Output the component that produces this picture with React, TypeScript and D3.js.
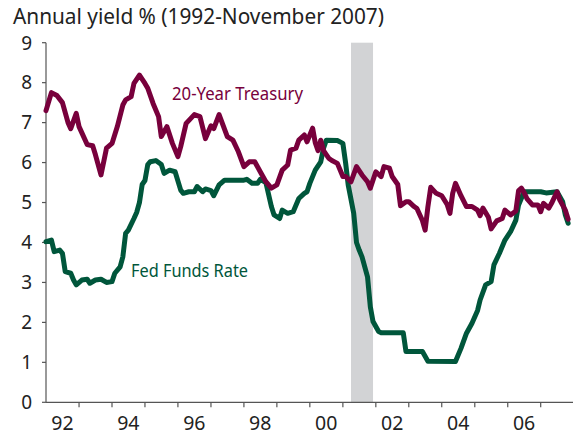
import React from "react";
import { scaleTime, scaleLinear, line, range } from "d3";

// monthly readings, "YYYY-MM" -> annual yield %
const treasury: [string, number][] = [
  ["1992-01", 7.3], ["1992-03", 7.75], ["1992-05", 7.68], ["1992-07", 7.5], ["1992-09", 7.0],
  ["1992-10", 6.85], ["1992-12", 7.23], ["1993-01", 6.9], ["1993-04", 6.45], ["1993-06", 6.42],
  ["1993-07", 6.2], ["1993-09", 5.69], ["1993-11", 6.36], ["1994-01", 6.48], ["1994-03", 6.9],
  ["1994-05", 7.44], ["1994-06", 7.57], ["1994-08", 7.65], ["1994-09", 7.98], ["1994-11", 8.19],
  ["1995-01", 7.98], ["1995-02", 7.86], ["1995-04", 7.48], ["1995-06", 7.15], ["1995-07", 6.65],
  ["1995-09", 6.9], ["1995-11", 6.48], ["1996-01", 6.15], ["1996-02", 6.4], ["1996-04", 6.98],
  ["1996-07", 7.2], ["1996-09", 7.15], ["1996-11", 6.6], ["1997-01", 6.92], ["1997-02", 6.85],
  ["1997-04", 7.2], ["1997-07", 6.65], ["1997-09", 6.56], ["1997-11", 6.27], ["1998-01", 5.9],
  ["1998-03", 6.02], ["1998-05", 6.02], ["1998-07", 5.77], ["1998-09", 5.52], ["1998-11", 5.36],
  ["1999-01", 5.44], ["1999-03", 5.81], ["1999-05", 5.94], ["1999-06", 6.31], ["1999-08", 6.36],
  ["1999-09", 6.56], ["1999-11", 6.69], ["1999-12", 6.52], ["2000-02", 6.86], ["2000-03", 6.5],
  ["2000-04", 6.3], ["2000-05", 6.56], ["2000-06", 6.3], ["2000-07", 6.2], ["2000-08", 6.1],
  ["2000-09", 6.05], ["2000-11", 5.98], ["2001-01", 5.65], ["2001-02", 5.65], ["2001-04", 5.52],
  ["2001-06", 5.9], ["2001-08", 5.69], ["2001-10", 5.52], ["2001-11", 5.36], ["2002-01", 5.77],
  ["2002-03", 5.65], ["2002-04", 5.9], ["2002-06", 5.86], ["2002-07", 5.65], ["2002-09", 5.45],
  ["2002-10", 4.92], ["2002-12", 5.02], ["2003-01", 5.02], ["2003-03", 4.9], ["2003-04", 4.85],
  ["2003-06", 4.55], ["2003-07", 4.31], ["2003-08", 4.9], ["2003-09", 5.38], ["2003-11", 5.23],
  ["2004-01", 5.17], ["2004-03", 4.95], ["2004-04", 4.73], ["2004-05", 5.23], ["2004-06", 5.48],
  ["2004-08", 5.17], ["2004-10", 4.9], ["2004-12", 4.9], ["2005-02", 4.81], ["2005-03", 4.67],
  ["2005-04", 4.86], ["2005-06", 4.63], ["2005-07", 4.34], ["2005-09", 4.54], ["2005-11", 4.6],
  ["2005-12", 4.81], ["2006-02", 4.69], ["2006-04", 4.79], ["2006-05", 5.3], ["2006-06", 5.36],
  ["2006-07", 5.25], ["2006-08", 5.1], ["2006-10", 4.94], ["2006-12", 4.94], ["2007-01", 4.77],
  ["2007-02", 4.98], ["2007-04", 4.86], ["2007-05", 4.98], ["2007-07", 5.27], ["2007-08", 5.06],
  ["2007-10", 4.81], ["2007-11", 4.58],
];

const fedFunds: [string, number][] = [
  ["1992-01", 4.02], ["1992-03", 4.06], ["1992-04", 3.77], ["1992-06", 3.81], ["1992-07", 3.73],
  ["1992-08", 3.27], ["1992-10", 3.23], ["1992-11", 3.06], ["1992-12", 2.94], ["1993-02", 3.06],
  ["1993-04", 3.08], ["1993-05", 2.98], ["1993-07", 3.06], ["1993-09", 3.08], ["1993-11", 3.0],
  ["1994-01", 3.02], ["1994-02", 3.23], ["1994-04", 3.39], ["1994-05", 3.64], ["1994-06", 4.23],
  ["1994-07", 4.31], ["1994-09", 4.6], ["1994-10", 4.75], ["1994-11", 5.0], ["1994-12", 5.45],
  ["1995-01", 5.55], ["1995-02", 5.95], ["1995-03", 6.02], ["1995-05", 6.05], ["1995-06", 6.0],
  ["1995-07", 5.95], ["1995-08", 5.73], ["1995-10", 5.81], ["1995-12", 5.77], ["1996-02", 5.31],
  ["1996-03", 5.23], ["1996-05", 5.27], ["1996-07", 5.27], ["1996-08", 5.4], ["1996-10", 5.27],
  ["1996-11", 5.34], ["1997-01", 5.3], ["1997-02", 5.17], ["1997-04", 5.44], ["1997-06", 5.56],
  ["1998-01", 5.56], ["1998-02", 5.58], ["1998-04", 5.48], ["1998-06", 5.48], ["1998-07", 5.58],
  ["1998-09", 5.5], ["1998-11", 4.9], ["1998-12", 4.69], ["1999-02", 4.6], ["1999-03", 4.81],
  ["1999-05", 4.73], ["1999-07", 4.77], ["1999-09", 5.1], ["1999-11", 5.23], ["1999-12", 5.27],
  ["2000-01", 5.48], ["2000-03", 5.81], ["2000-05", 6.02], ["2000-06", 6.36], ["2000-07", 6.56],
  ["2000-11", 6.55], ["2001-01", 6.48], ["2001-02", 5.98], ["2001-03", 5.44], ["2001-05", 4.73],
  ["2001-06", 4.0], ["2001-07", 3.81], ["2001-08", 3.64], ["2001-10", 3.14], ["2001-11", 2.39],
  ["2001-12", 2.02], ["2002-02", 1.77], ["2002-03", 1.74], ["2002-11", 1.74], ["2002-12", 1.27],
  ["2003-06", 1.27], ["2003-08", 1.03], ["2004-06", 1.02], ["2004-08", 1.35], ["2004-10", 1.73],
  ["2004-12", 1.98], ["2005-02", 2.3], ["2005-03", 2.56], ["2005-05", 2.94], ["2005-07", 3.02],
  ["2005-08", 3.44], ["2005-10", 3.73], ["2005-12", 4.06], ["2006-02", 4.27], ["2006-04", 4.56],
  ["2006-05", 4.94], ["2006-07", 5.27], ["2007-01", 5.27], ["2007-03", 5.24], ["2007-07", 5.27],
  ["2007-09", 5.02], ["2007-10", 4.69], ["2007-11", 4.48],
];

const recession = ["2001-04", "2001-12"];
const yTicks = [0, 1, 2, 3, 4, 5, 6, 7, 8, 9];
const yearLabels = ["92", "94", "96", "98", "00", "02", "04", "06"];
const title = "Annual yield % (1992-November 2007)";

const W = 573;
const H = 435;
const font = "'Noto Sans', 'Open Sans', sans-serif";

const parse = (s: string) => {
  const [y, m] = s.split("-").map(Number);
  return new Date(y, m - 1, 1);
};

export default function App() {
  const x = scaleTime()
    .domain([new Date(1992, 0, 1), new Date(2007, 0, 1)])
    .range([46, 540.7]);
  const y = scaleLinear().domain([0, 9]).range([402.3, 42.7]);

  const path = line<[string, number]>()
    .x(d => x(parse(d[0])))
    .y(d => y(d[1]));

  const yearTicks = range(1993, 2008).map(yr => x(new Date(yr, 0, 1)));
  const labelYears = range(1992, 2008, 2);

  return (
    <svg width={W} height={H} style={{ position: "absolute", left: 0, top: 0, background: "#fff" }}>
      {/* recession band */}
      <rect
        x={x(parse(recession[0]))}
        y={y(9)}
        width={x(parse(recession[1])) - x(parse(recession[0]))}
        height={y(0) - y(9)}
        fill="#d2d3d5"
      />

      <text x={13} y={24} fontFamily={font} fontSize={21} fill="#222" textLength={371} lengthAdjust="spacingAndGlyphs">
        {title}
      </text>

      {/* y axis */}
      <line x1={46} x2={46} y1={y(9)} y2={y(0)} stroke="#555" strokeWidth={1.2} />
      {yTicks.map(t => (
        <g key={t}>
          <line x1={42} x2={46} y1={y(t)} y2={y(t)} stroke="#555" strokeWidth={1.2} />
          <text x={32} y={y(t)} dy="0.36em" textAnchor="end" fontFamily={font} fontSize={19} fill="#222">
            {t}
          </text>
        </g>
      ))}

      {/* x axis */}
      <line x1={46} x2={W} y1={y(0)} y2={y(0)} stroke="#555" strokeWidth={1.2} />
      {yearTicks.map((px, i) => (
        <line key={i} x1={px} x2={px} y1={y(0)} y2={y(0) + 5} stroke="#555" strokeWidth={1.2} />
      ))}
      {labelYears.map((yr, i) => (
        <text
          key={yr}
          x={x(new Date(yr, 6, 1))}
          y={430}
          textAnchor="middle"
          fontFamily={font}
          fontSize={19.5}
          fill="#222"
        >
          {yearLabels[i]}
        </text>
      ))}

      <path d={path(fedFunds) ?? ""} fill="none" stroke="#00563b" strokeWidth={5} strokeLinejoin="round" strokeLinecap="round" />
      <path d={path(treasury) ?? ""} fill="none" stroke="#78003c" strokeWidth={5} strokeLinejoin="round" strokeLinecap="round" />

      <text x={172} y={100} fontFamily={font} fontSize={18} fill="#78003c" textLength={131} lengthAdjust="spacingAndGlyphs">
        20-Year Treasury
      </text>
      <text x={131} y={277} fontFamily={font} fontSize={18} fill="#00563b" textLength={117} lengthAdjust="spacingAndGlyphs">
        Fed Funds Rate
      </text>
    </svg>
  );
}
